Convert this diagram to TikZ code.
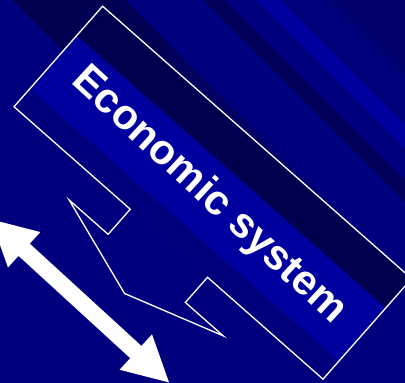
\documentclass[tikz,border=0pt]{standalone}
\usepackage{fontspec}
\setmainfont{Liberation Sans}
\definecolor{bgmid}{HTML}{00007E}
\definecolor{bgdark}{HTML}{000052}
\definecolor{bgdarkb}{HTML}{00005A}
\definecolor{bglight}{HTML}{00009C}
\definecolor{bgmidb}{HTML}{00007A}
\definecolor{bgtop}{HTML}{00006C}
\definecolor{banddark}{HTML}{000050}
\definecolor{bandlight}{HTML}{00009E}
\definecolor{bandlow}{HTML}{00007C}
\tikzset{
  calloutline/.style={draw=white, line width=1.3pt, line join=miter},
  titletext/.style={text=white, font=\fontsize{42}{50}\selectfont\bfseries, inner sep=0pt},
  bigarrow/.style={fill=white}
}
\begin{document}
\begin{tikzpicture}[x=1pt,y=-1pt]
\useasboundingbox (0,0) rectangle (405,383);
\clip (0,0) rectangle (405,383);
\fill[bgmid] (0,0) rectangle (405,383);
% background stripes at 45 degrees
\begin{scope}[rotate=-45, x=1pt, y=1pt]
  \fill[bgdark] (-200,8.5) rectangle (150,88.4);
  \shade[left color=bgdark, right color=bgmid] (150,8.5) rectangle (480,88.4);
  \fill[bgdarkb] (-200,143.5) rectangle (800,159.1);
  \fill[bglight] (-200,181.7) rectangle (800,199.4);
  \fill[bgmidb] (-200,199.4) rectangle (800,233.3);
  \fill[bgtop] (-200,233.3) rectangle (800,500);
\end{scope}
% rotated frame of the callout (origin = left corner)
\begin{scope}[shift={(14pt,-106.7pt)}, rotate=-41.4, x=1pt, y=1pt]
  \fill[bandlow] (0,0) rectangle (412,24);
  \fill[bandlight] (0,24) rectangle (412,95);
  \fill[banddark] (0,95) rectangle (412,134);
  \draw[calloutline] (0,0) -- (155,0) -- (155,-33.5) -- (103,-33.5) -- (206.5,-67)
     -- (308.5,-33.5) -- (258,-33.5) -- (258,0) -- (412,0) -- (412,134) -- (0,134) -- cycle;
  \node[titletext, anchor=base, rotate=-42.7] (title) at (205,51) {Economic system};
\end{scope}
% double arrow
\begin{scope}[shift={(80pt,-300.9pt)}, x={(0.7375pt,-0.6754pt)}, y={(-0.6754pt,-0.7375pt)}]
  \coordinate (tipA) at (-120.7,0);
  \coordinate (tipB) at (120.7,0);
  \fill[bigarrow] (tipA) -- (-75.7,-24) -- (-75.7,-8.3) -- (75.7,-8.3) -- (75.7,-24)
     -- (tipB) -- (75.7,24) -- (75.7,8.3) -- (-75.7,8.3) -- (-75.7,24) -- cycle;
\end{scope}
\end{tikzpicture}
\end{document}
